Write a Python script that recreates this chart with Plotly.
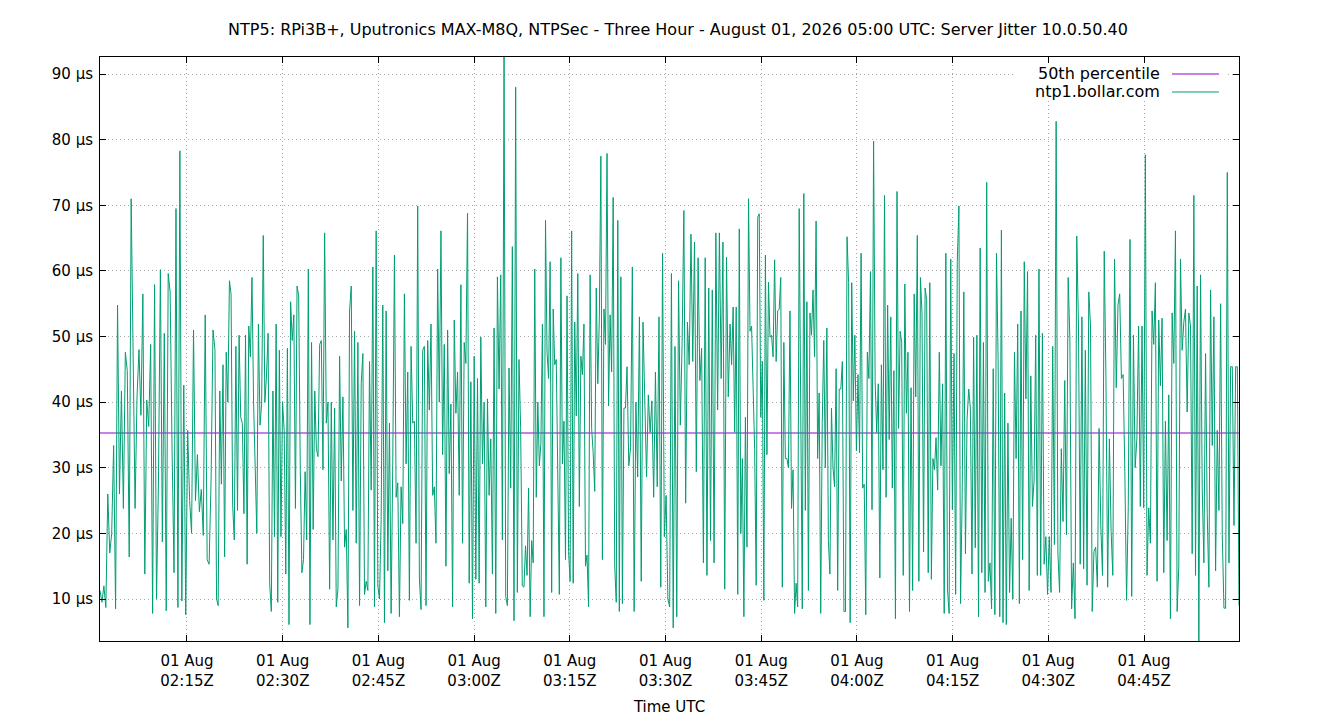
# NTP server jitter - three hour view
import numpy as np
import pandas as pd
import plotly.graph_objects as go

# Data (µs), split by time window so the peaks land in place
segment_times = ["2026-08-01 02:01:22", "2026-08-01 02:19:23", "2026-08-01 02:35:32",
                 "2026-08-01 02:51:41", "2026-08-01 03:07:49", "2026-08-01 03:23:58",
                 "2026-08-01 03:40:07", "2026-08-01 03:56:15", "2026-08-01 04:12:24",
                 "2026-08-01 04:28:32", "2026-08-01 04:44:41", "2026-08-01 04:59:53"]

jitter_a = [11.3, 9.5, 12.0, 8.7, 26.0, 17.0, 20.0, 33.4, 8.5, 54.8, 26.0, 41.7, 23.8, 47.6, 44.8,
            16.4, 71.0, 44.0, 23.8, 40.8, 48.0, 38.0, 56.5, 13.8, 40.3, 36.3, 48.8, 7.8, 57.9, 10.0,
            27.7, 60.2, 18.7, 50.5, 8.2, 59.6, 56.8, 32.6, 14.0, 69.5, 8.7, 78.3, 9.7, 42.6, 7.6,
            35.7, 25.0, 20.0, 51.0, 25.0, 32.0, 23.3, 26.7, 19.7, 53.3, 16.0, 15.3, 28.0, 51.0]
jitter_b = [48.0, 10.0, 9.0, 41.7, 27.5, 45.7, 16.4, 47.6, 40.0, 58.5, 56.5, 24.3, 19.0, 48.5, 23.5,
            50.2, 37.7, 36.8, 23.0, 50.2, 15.3, 51.6, 46.9, 59.0, 40.0, 27.7, 20.0, 51.9, 36.5, 39.7,
            65.4, 40.0, 44.0, 50.5, 12.4, 8.1, 41.7, 19.5, 51.9, 9.5, 47.9, 19.5, 40.0, 35.7, 13.8,
            48.2, 6.1, 55.3, 49.4, 53.3, 23.8, 57.7, 56.2, 29.7, 14.0, 16.0, 29.4, 19.0, 60.3, 6.1,
            49.1, 20.6, 41.7, 32.9]
jitter_c = [31.7, 48.8, 49.4, 29.7, 65.8, 36.8, 40.0, 11.5, 40.0, 19.0, 39.1, 8.8, 11.5, 47.0, 28.0,
            40.8, 17.9, 20.6, 5.6, 53.9, 57.7, 23.5, 50.8, 18.5, 49.1, 9.0, 42.8, 47.4, 10.7, 12.7,
            11.3, 46.2, 26.6, 60.6, 8.8, 66.1, 12.0, 10.0, 22.1, 54.8, 6.4, 53.9, 14.3, 36.8, 7.8,
            30.9, 62.4, 25.5, 27.7, 7.3, 27.1, 21.5, 56.5, 30.6, 44.6, 9.8, 48.5, 36.8, 37.1, 18.5,
            69.9, 13.2]
jitter_d = [8.4, 47.9, 48.5, 9.0, 49.4, 38.8, 51.9, 25.8, 27.1, 18.5, 60.3, 40.0, 66.1, 32.0, 48.8,
            15.0, 51.0, 29.1, 39.7, 8.8, 52.5, 38.3, 44.6, 25.8, 57.9, 18.5, 49.1, 45.9, 68.8, 12.4,
            43.1, 7.0, 47.0, 13.0, 43.6, 12.4, 49.9, 30.6, 40.0, 8.8, 40.5, 25.8, 34.4, 13.8, 51.3,
            7.8, 59.1, 42.0, 59.4, 19.0, 92.6, 10.4, 9.0, 45.2, 26.9, 63.7, 6.7, 88.0, 11.0, 46.5,
            36.0, 12.0]
jitter_e = [11.8, 18.1, 13.6, 26.9, 7.3, 18.9, 15.5, 60.3, 25.5, 40.0, 30.3, 33.7, 51.9, 7.3, 67.7,
            47.6, 43.6, 61.4, 11.0, 54.2, 45.7, 46.5, 31.1, 10.7, 62.0, 30.6, 37.1, 16.0, 56.2, 17.2,
            12.7, 66.1, 12.4, 52.2, 37.9, 59.6, 24.1, 47.0, 44.2, 51.9, 15.0, 16.7, 8.8, 59.4, 36.0,
            32.3, 26.4, 57.4, 42.8, 52.8, 77.5, 16.0, 54.2, 48.8, 77.9, 39.4, 53.3, 44.6, 71.2, 15.0,
            9.5, 67.7, 8.1, 59.1, 9.3, 39.1, 39.1]
jitter_f = [45.4, 30.3, 33.1, 60.6, 8.1, 40.0, 28.6, 53.0, 12.7, 52.2, 38.8, 28.6, 41.1, 35.4, 40.2,
            25.5, 44.6, 27.1, 53.0, 11.8, 62.7, 19.5, 25.8, 10.0, 8.8, 59.6, 5.6, 48.5, 7.3, 58.5,
            36.5, 48.8, 69.2, 24.6, 52.2, 45.7, 65.6, 46.2, 64.4, 29.4, 62.0, 43.3, 48.2, 15.5, 62.0,
            13.6, 57.4, 18.9, 57.1, 15.5, 65.8, 38.8, 65.8, 43.6, 64.4, 11.5, 62.1, 40.8]
jitter_g = [51.9, 45.7, 54.5, 35.4, 54.5, 10.7, 66.4, 20.0, 31.4, 7.3, 37.7, 17.9, 71.0, 50.8, 51.6,
            41.7, 32.9, 12.1, 68.2, 68.7, 37.7, 46.2, 9.8, 62.4, 32.0, 58.3, 49.9, 50.2, 46.9, 61.7,
            46.2, 53.9, 54.2, 59.0, 11.8, 49.1, 31.4, 31.4, 30.0, 53.9, 23.8, 29.7, 7.8, 12.4, 8.8,
            69.5, 42.8, 8.5, 71.8, 23.5, 55.3, 11.3, 53.6, 50.2, 57.1, 46.9, 67.6, 31.4, 41.4, 7.8,
            36.8, 49.4, 30.0, 51.3, 18.9, 13.8, 39.1]
jitter_h = [30.0, 27.1, 45.1, 11.3, 42.0, 42.0, 46.2, 8.1, 8.1, 65.2, 58.2, 6.4, 58.2, 40.2, 50.2,
            32.6, 44.2, 32.3, 62.7, 26.9, 27.5, 7.6, 47.6, 43.6, 59.9, 23.6, 79.8, 43.1, 35.4, 42.8,
            13.2, 45.7, 29.7, 71.5, 25.5, 54.8, 34.3, 53.0, 26.9, 44.8, 7.0, 72.1, 36.0, 50.8, 49.1,
            13.6, 58.0, 38.3, 47.6, 8.1, 42.2, 11.3, 56.5, 40.8, 65.4, 12.7, 59.0, 53.6, 17.2, 57.4,
            55.6, 14.0, 58.2, 13.0, 31.4, 29.7]
jitter_i = [34.6, 26.6, 47.6, 30.3, 42.8, 7.8, 62.7, 11.5, 7.8, 61.8, 23.6, 47.4, 10.7, 61.4, 69.9,
            9.3, 25.8, 56.8, 16.9, 37.4, 42.0, 39.1, 13.8, 49.9, 17.8, 50.2, 7.3, 63.5, 14.0, 49.1,
            11.0, 73.5, 12.7, 15.5, 8.5, 45.1, 7.6, 62.7, 46.2, 7.3, 66.2, 6.4, 41.4, 6.1, 36.8,
            11.0, 22.3, 10.0, 47.6, 31.4, 51.9, 9.3, 53.9, 16.0, 61.4, 40.5, 59.9, 11.3, 44.0, 24.1,
            28.0, 50.2, 13.6]
jitter_j = [60.3, 13.6, 50.5, 15.3, 19.5, 10.7, 19.5, 11.0, 48.5, 18.3, 82.8, 17.2, 11.0, 32.9, 21.8,
            43.3, 19.8, 59.0, 49.6, 8.5, 15.5, 7.0, 65.3, 51.6, 15.3, 53.0, 14.6, 47.9, 12.1, 56.8,
            51.6, 8.1, 17.2, 17.9, 11.8, 36.0, 21.2, 13.6, 63.0, 43.6, 11.8, 34.4, 20.3, 13.6, 61.8,
            42.2, 54.8, 56.5, 43.6, 44.2, 29.4, 9.8, 24.1, 64.8, 10.4, 50.2, 30.0, 34.4, 51.6, 24.1]
jitter_k = [51.6, 23.9, 77.7, 13.6, 23.9, 18.5, 53.9, 48.8, 58.2, 12.7, 52.5, 42.5, 52.8, 14.0, 37.1,
            18.9, 41.1, 7.0, 53.6, 45.9, 66.1, 8.1, 15.0, 61.8, 47.9, 52.2, 54.2, 38.5, 53.6, 51.6,
            16.9, 71.5, 13.6, 57.7, 3.6, 59.4, 27.1, 15.5, 47.4, 23.0, 11.8, 57.1, 33.4, 53.0, 14.3,
            35.7, 23.5, 55.0, 19.8, 8.6, 8.6, 75.0, 15.5, 45.4, 45.4, 21.2, 45.4, 45.4, 9.0]

median_us = 35.3  # 50th percentile

x_tick_times = ["2026-08-01 02:15", "2026-08-01 02:30", "2026-08-01 02:45", "2026-08-01 03:00",
                "2026-08-01 03:15", "2026-08-01 03:30", "2026-08-01 03:45", "2026-08-01 04:00",
                "2026-08-01 04:15", "2026-08-01 04:30", "2026-08-01 04:45"]
y_ticks = [10, 20, 30, 40, 50, 60, 70, 80, 90]

segments = [jitter_a, jitter_b, jitter_c, jitter_d, jitter_e, jitter_f,
            jitter_g, jitter_h, jitter_i, jitter_j, jitter_k]

times = []
values = []
for i, seg in enumerate(segments):
    t0 = pd.Timestamp(segment_times[i])
    t1 = pd.Timestamp(segment_times[i + 1])
    last = (i == len(segments) - 1)
    ts = pd.date_range(t0, t1, periods=len(seg) if last else len(seg) + 1)
    if not last:
        ts = ts[:-1]
    times.extend(ts)
    values.extend(seg)

font = "DejaVu Sans, sans-serif"
green = "#009e73"
purple = "#9400d3"

median_line = go.Scatter(
    x=[times[0], times[-1]],
    y=[median_us, median_us],
    mode="lines",
    line=dict(color=purple, width=1.2),
    name="50th percentile",
)
jitter_line = go.Scatter(
    x=times,
    y=values,
    mode="lines",
    line=dict(color=green, width=1),
    name="ntp1.bollar.com",
)

axis_style = dict(
    showline=True, linecolor="black", linewidth=1, mirror="ticks",
    ticks="inside", ticklen=6, tickcolor="black",
    showgrid=True, gridcolor="#a8a8a8", griddash="1px,3px", gridwidth=1,
    zeroline=False,
    tickfont=dict(family=font, size=15, color="black"),
)

layout = go.Layout(
    width=1340, height=720,
    paper_bgcolor="white", plot_bgcolor="white",
    margin=dict(l=92, r=109, t=49, b=87),
    showlegend=False,
    title=dict(
        text="NTP5: RPi3B+, Uputronics MAX-M8Q, NTPSec - Three Hour - August 01, 2026 05:00 UTC: Server Jitter 10.0.50.40",
        x=0.5, xref="container", xanchor="center",
        y=1 - 21 / 720, yref="container", yanchor="middle",
        font=dict(family=font, size=16, color="black"),
    ),
    xaxis=dict(
        axis_style,
        range=[times[0], times[-1]],
        tickvals=x_tick_times,
        ticktext=["01 Aug<br>" + t[-5:] + "Z" for t in x_tick_times],
        ticklabelstandoff=6,
        title=dict(text="Time UTC", font=dict(family=font, size=15, color="black"), standoff=12),
    ),
    yaxis=dict(
        axis_style,
        range=[min(values), max(values)],
        tickvals=y_ticks,
        ticktext=[str(v) + " µs" for v in y_ticks],
        ticklabelstandoff=3,
    ),
)

fig = go.Figure(data=[median_line, jitter_line], layout=layout)

# opaque key box like gnuplot's, hides the grid behind the key
fig.add_shape(type="rect", xref="paper", yref="paper",
              x0=0.8016, x1=0.9895, y0=0.9247, y1=0.988,
              fillcolor="white", line=dict(width=0), layer="above")

# key drawn gnuplot-style: text on the left, line sample on the right
legend_items = [("50th percentile", purple, 0.9709), ("ntp1.bollar.com", green, 0.9401)]
for label, color, ypos in legend_items:
    fig.add_annotation(text=label, xref="paper", yref="paper", x=0.9324, y=ypos,
                       xanchor="right", yanchor="middle", showarrow=False,
                       font=dict(family=font, size=16, color="black"))
    fig.add_shape(type="line", xref="paper", yref="paper",
                  x0=0.9412, x1=0.9824, y0=ypos, y1=ypos,
                  line=dict(color=color, width=1), layer="above")

fig.write_html("out.html")
